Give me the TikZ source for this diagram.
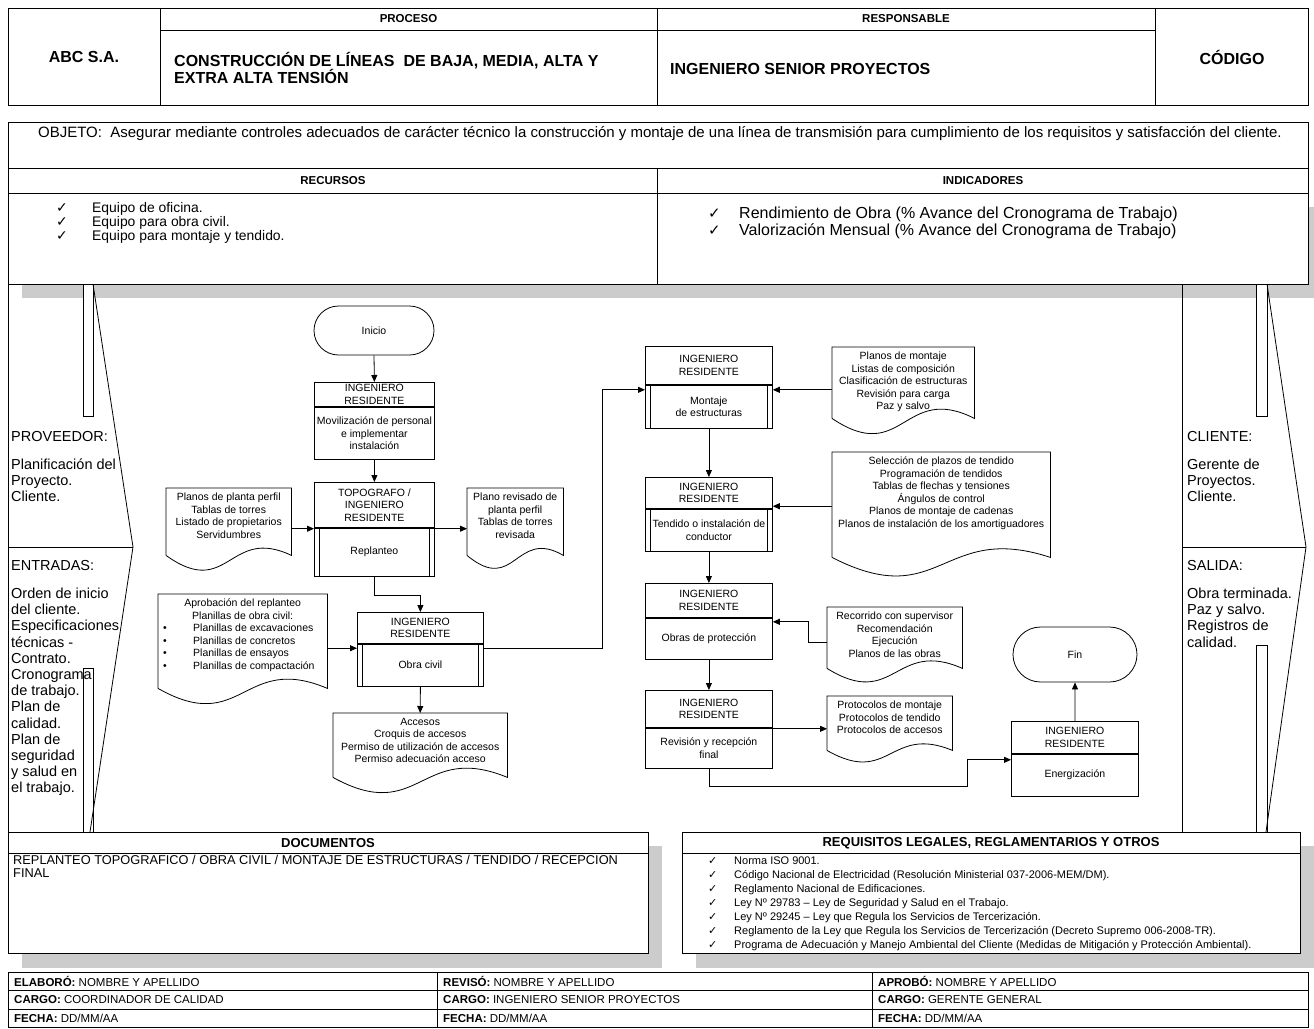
\documentclass[tikz,border=0pt]{standalone}
\usepackage{fontspec}
\setmainfont{Liberation Sans}
\newfontfamily\sym{DejaVu Sans}
\usetikzlibrary{arrows.meta,calc}
\definecolor{shd}{RGB}{204,204,204}
\newcommand\ffont{\fontsize{10.5}{12.5}\selectfont}
\newcommand\ck[2]{\makebox[#1][l]{\sym\fontsize{#2}{#2}\selectfont ✓}}
\newcommand\docout[3]{\draw[ln] (#1.south west) -- (#1.north west) -- (#1.north east) -- (#1.south east) .. controls ($(#1.south east)!0.5!(#1.south west)+(0,-#3)$) and ($(#1.south east)!0.5!(#1.south west)+(0,#2)$) .. (#1.south west);}
\newcommand\ppside[1]{\draw[ln] ([xshift=5pt]#1.north west) -- ([xshift=5pt]#1.south west) ([xshift=-5pt]#1.north east) -- ([xshift=-5pt]#1.south east);}
\tikzset{
 ln/.style={line width=0.8pt},
 arr/.style={line width=0.8pt,-{Triangle[length=7pt,width=6pt]}},
 ff/.style={font=\ffont, align=center, inner sep=0pt},
 fbox/.style={draw, ln, ff, anchor=north west},
 dshape/.style={inner sep=0pt, anchor=north west},
 dtext/.style={ff, anchor=north},
 term/.style={draw, ln, ff, minimum width=120pt, minimum height=49pt, rounded corners=24.5pt},
 coltxt/.style={anchor=north west, align=left, inner sep=0pt, font=\fontsize{14.5}{16.2}\selectfont},
 hsmall/.style={font=\bfseries\fontsize{11.5}{13}\selectfont, inner sep=0pt},
 hbig/.style={font=\bfseries\fontsize{16}{17}\selectfont, inner sep=0pt, align=left},
 ftxt/.style={font=\fontsize{11.5}{13}\selectfont, inner sep=0pt, anchor=west},
}
\begin{document}
\begin{tikzpicture}[x=1pt,y=-1pt]
\useasboundingbox[fill=white] (0,0) rectangle (1314,1028);
% ---------- header
\draw[ln] (8,8) rectangle (1308,105);
\draw[ln] (160,8) -- (160,105) (657,8) -- (657,105) (1155,8) -- (1155,105) (160,30) -- (1155,30);
\node[hsmall] (proc) at (408.5,19) {PROCESO};
\node[hsmall] (resp) at (906,19) {RESPONSABLE};
\node[hbig] (abc) at (84,57) {ABC S.A.};
\node[hbig, anchor=west] (constr) at (174,67.5) {CONSTRUCCIÓN DE LÍNEAS\ \ DE BAJA, MEDIA, ALTA Y\\EXTRA ALTA TENSIÓN};
\node[hbig, anchor=west] (ing) at (670,69) {INGENIERO SENIOR PROYECTOS};
\node[hbig] (cod) at (1232,57) {CÓDIGO};
% ---------- objeto / recursos
\fill[shd] (22,207) rectangle (1314,298);
\draw[ln, fill=white] (8,122) rectangle (1308,284);
\draw[ln] (8,168) -- (1308,168) (8,193) -- (1308,193) (657,168) -- (657,284);
\node[font=\fontsize{15}{16}\selectfont, inner sep=0pt] (obj) at (660,134) {OBJETO:\ \ Asegurar mediante controles adecuados de carácter técnico la construcción y montaje de una línea de transmisión para cumplimiento de los requisitos y satisfacción del cliente.};
\node[hsmall] (recu) at (333,181) {RECURSOS};
\node[hsmall] (indi) at (983,181) {INDICADORES};
\node[anchor=north west, align=left, inner sep=0pt, font=\fontsize{13.9}{14}\selectfont] (recit) at (56,202) {\ck{36pt}{14}Equipo de oficina.\\\ck{36pt}{14}Equipo para obra civil.\\\ck{36pt}{14}Equipo para montaje y tendido.};
\node[anchor=north west, align=left, inner sep=0pt, font=\fontsize{16}{17}\selectfont] (indit) at (708,207) {\ck{31pt}{15}Rendimiento de Obra (\% Avance del Cronograma de Trabajo)\\\ck{31pt}{15}Valorización Mensual (\% Avance del Cronograma de Trabajo)};
% ---------- side columns
\draw[ln] (8,284) -- (8,832) (8,547) -- (133,547);
\draw[ln, fill=white] (83,284) rectangle (93,416);
\draw[ln, fill=white] (83,668) rectangle (93,832);
\draw[ln] (93,284) -- (133,547) -- (90,832);
\draw[ln] (1182,284) -- (1182,832) (1182,547) -- (1306,547);
\draw[ln, fill=white] (1256,284) rectangle (1267,416);
\draw[ln, fill=white] (1256,645) rectangle (1267,832);
\draw[ln] (1267,284) -- (1306,547) -- (1266,832);
\node[coltxt] (prov) at (11,431) {PROVEEDOR:\\[12pt]Planificación del\\Proyecto.\\Cliente.};
\node[coltxt] (entr) at (11,560) {ENTRADAS:\\[12pt]Orden de inicio\\del cliente.\\Especificaciones\\técnicas -\\Contrato.\\Cronograma\\de trabajo.\\Plan de\\calidad.\\Plan de\\seguridad\\y salud en\\el trabajo.};
\node[coltxt] (clie) at (1187,431) {CLIENTE:\\[12pt]Gerente de\\Proyectos.\\Cliente.};
\node[coltxt] (sali) at (1187,560) {SALIDA:\\[12pt]Obra terminada.\\Paz y salvo.\\Registros de\\calidad.};
% ---------- flowchart left
\node[term] (inicio) at (374,330.5) {Inicio};
\node[fbox, minimum width=120pt, minimum height=24pt] (b1h) at (314,382) {INGENIERO\\RESIDENTE};
\node[fbox, minimum width=120pt, minimum height=52pt] (b1) at (b1h.south west) {Movilización de personal\\e implementar\\instalación};
\node[fbox, minimum width=120pt, minimum height=45pt] (b2h) at (314,482) {TOPOGRAFO /\\INGENIERO\\RESIDENTE};
\node[fbox, minimum width=120pt, minimum height=48pt] (b2) at (b2h.south west) {Replanteo};
\ppside{b2}
\draw[arr] (inicio.south) -- (b1h.north);
\draw[arr] (b1.south) -- (b2h.north);
\node[dshape, minimum width=125pt, minimum height=67pt] (dl1) at (166,488) {};
\node[dtext] (dl1t) at ($(dl1.north)+(0,5)$) {Planos de planta perfil\\Tablas de torres\\Listado de propietarios\\Servidumbres};
\docout{dl1}{45}{30}
\node[dshape, minimum width=96pt, minimum height=67pt] (dr1) at (467,488) {};
\node[dtext] (dr1t) at ($(dr1.north)+(0,5)$) {Plano revisado de\\planta perfil\\Tablas de torres\\revisada};
\docout{dr1}{40}{28}
\coordinate (c1) at ([yshift=-7pt]dl1.east);
\draw[arr] (c1) -- (c1 -| b2h.west);
\draw[arr] (c1 -| b2h.east) -- (c1 -| dr1.west);
\node[fbox, minimum width=126pt, minimum height=31pt] (b3h) at (357,612) {INGENIERO\\RESIDENTE};
\node[fbox, minimum width=126pt, minimum height=42pt] (b3) at (b3h.south west) {Obra civil};
\ppside{b3}
\draw[arr] (b2.south) -- ++(0,19) -| (b3h.north);
\node[dshape, minimum width=169pt, minimum height=94pt] (dl2) at (158,594) {};
\node[dtext] (dl2a) at ($(dl2.north)+(0,5)$) {Aprobación del replanteo\\Planillas de obra civil:};
\node[ff, anchor=north west, align=left] (dl2b) at (163,624) {\makebox[30pt][l]{•}Planillas de excavaciones\\\makebox[30pt][l]{•}Planillas de concretos\\\makebox[30pt][l]{•}Planillas de ensayos\\\makebox[30pt][l]{•}Planillas de compactación};
\docout{dl2}{48}{36}
\coordinate (c2) at ([yshift=-7pt]dl2.east);
\draw[arr] (c2) -- (c2 -| b3.west);
\node[dshape, minimum width=174pt, minimum height=64pt] (dacc) at (333,713) {};
\node[dtext] (dacct) at ($(dacc.north)+(0,5)$) {Accesos\\Croquis de accesos\\Permiso de utilización de accesos\\Permiso adecuación acceso};
\docout{dacc}{48}{36}
\draw[arr] (b3.south) -- (dacc.north);
% ---------- flowchart right
\node[fbox, minimum width=127pt, minimum height=38pt] (mh) at (645,346) {INGENIERO\\RESIDENTE};
\node[fbox, minimum width=127pt, minimum height=43pt] (m) at (mh.south west) {Montaje\\de estructuras};
\ppside{m}
\coordinate (c3) at ([yshift=-5pt]b3.north east);
\coordinate (c4) at ([yshift=-5pt]m.north west);
\draw[arr] (c3) -- ++(119,0) |- (c4);
\node[dshape, minimum width=142pt, minimum height=71pt] (dm) at (832,347) {};
\node[dtext] (dmt) at ($(dm.north)+(0,5)$) {Planos de montaje\\Listas de composición\\Clasificación de estructuras\\Revisión para carga\\Paz y salvo};
\docout{dm}{48}{36}
\draw[arr] (dm.west |- c4) -- (c4 -| m.east);
\node[fbox, minimum width=127pt, minimum height=31pt] (th) at (645,477) {INGENIERO\\RESIDENTE};
\node[fbox, minimum width=127pt, minimum height=42pt] (t) at (th.south west) {Tendido o instalación de\\conductor};
\ppside{t}
\draw[arr] (m.south) -- (th.north);
\node[dshape, minimum width=218pt, minimum height=105pt] (dt) at (832,452) {};
\node[dtext] (dtt) at ($(dt.north)+(0,5)$) {Selección de plazos de tendido\\Programación de tendidos\\Tablas de flechas y tensiones\\Ángulos de control\\Planos de montaje de cadenas\\Planos de instalación de los amortiguadores};
\docout{dt}{56}{36}
\draw[arr] ([yshift=-1.5pt]dt.west) -- ([yshift=-1.5pt]dt.west -| t.east);
\node[fbox, minimum width=127pt, minimum height=34pt] (oh) at (645,583) {INGENIERO\\RESIDENTE};
\node[fbox, minimum width=127pt, minimum height=41pt] (o) at (oh.south west) {Obras de protección};
\draw[arr] (t.south) -- (oh.north);
\node[dshape, minimum width=135pt, minimum height=61pt] (dob) at (827,607) {};
\node[dtext] (dobt) at ($(dob.north)+(0,5)$) {Recorrido con supervisor\\Recomendación\\Ejecución\\Planos de las obras};
\docout{dob}{42}{30}
\coordinate (c6) at ([yshift=-4.5pt]dob.west);
\coordinate (c7) at ([yshift=-4pt]o.north east);
\draw[arr] (c6) -- ++(-19,0) |- (c7);
\node[fbox, minimum width=127pt, minimum height=37pt] (rh) at (645,690) {INGENIERO\\RESIDENTE};
\node[fbox, minimum width=127pt, minimum height=40pt] (r) at (rh.south west) {Revisión y recepción\\final};
\draw[arr] (o.south) -- (rh.north);
\node[dshape, minimum width=125pt, minimum height=54pt] (dp) at (827,696) {};
\node[dtext] (dpt) at ($(dp.north)+(0,5)$) {Protocolos de montaje\\Protocolos de tendido\\Protocolos de accesos};
\docout{dp}{36}{26}
\coordinate (c8) at ([yshift=-1pt]r.north east);
\draw[arr] (c8) -- (c8 -| dp.west);
\node[fbox, minimum width=127pt, minimum height=32pt] (eh) at (1011,721) {INGENIERO\\RESIDENTE};
\node[fbox, minimum width=127pt, minimum height=42pt] (e) at (eh.south west) {Energización};
\coordinate (c9) at ([yshift=-6pt]e.north west);
\draw[arr] (r.south) -- ++(0,18) -| ([xshift=-44pt]c9) -- (c9);
\node[term, minimum width=124pt, minimum height=55pt, rounded corners=27.5pt] (fin) at (1075,654.5) {Fin};
\draw[arr] (eh.north) -- (fin.south);
% ---------- bottom boxes
\fill[shd] (22,846) rectangle (662,968);
\draw[ln, fill=white] (8,832) rectangle (648,953);
\draw[ln] (8,853) -- (648,853);
\fill[shd] (696,846) rectangle (1314,968);
\draw[ln, fill=white] (682,832) rectangle (1300,953);
\draw[ln] (682,853) -- (1300,853);
\node[font=\bfseries\fontsize{13}{14}\selectfont, inner sep=0pt] (docu) at (328,843) {DOCUMENTOS};
\node[font=\bfseries\fontsize{13}{14}\selectfont, inner sep=0pt] (requ) at (991,843) {REQUISITOS LEGALES, REGLAMENTARIOS Y OTROS};
\node[anchor=north west, align=left, inner sep=0pt, font=\fontsize{12.8}{13}\selectfont] (doct) at (13,855) {REPLANTEO TOPOGRAFICO / OBRA CIVIL / MONTAJE DE ESTRUCTURAS / TENDIDO / RECEPCION\\FINAL};
\node[anchor=north west, align=left, inner sep=0pt, font=\fontsize{11}{13.9}\selectfont] (reqt) at (708,857) {\ck{26pt}{11}Norma ISO 9001.\\\ck{26pt}{11}Código Nacional de Electricidad (Resolución Ministerial 037-2006-MEM/DM).\\\ck{26pt}{11}Reglamento Nacional de Edificaciones.\\\ck{26pt}{11}Ley Nº 29783 – Ley de Seguridad y Salud en el Trabajo.\\\ck{26pt}{11}Ley Nº 29245 – Ley que Regula los Servicios de Tercerización.\\\ck{26pt}{11}Reglamento de la Ley que Regula los Servicios de Tercerización (Decreto Supremo 006-2008-TR).\\\ck{26pt}{11}Programa de Adecuación y Manejo Ambiental del Cliente (Medidas de Mitigación y Protección Ambiental).};
% ---------- footer
\draw[ln] (8,972) rectangle (1308,1027.5);
\draw[ln] (8,990.5) -- (1308,990.5) (8,1009) -- (1308,1009) (437,972) -- (437,1027.5) (872,972) -- (872,1027.5);
\node[ftxt] (f11) at (14,981.5) {\textbf{ELABORÓ:} NOMBRE Y APELLIDO};
\node[ftxt] (f12) at (443,981.5) {\textbf{REVISÓ:} NOMBRE Y APELLIDO};
\node[ftxt] (f13) at (878,981.5) {\textbf{APROBÓ:} NOMBRE Y APELLIDO};
\node[ftxt] (f21) at (14,1000) {\textbf{CARGO:} COORDINADOR DE CALIDAD};
\node[ftxt] (f22) at (443,1000) {\textbf{CARGO:} INGENIERO SENIOR PROYECTOS};
\node[ftxt] (f23) at (878,1000) {\textbf{CARGO:} GERENTE GENERAL};
\node[ftxt] (f31) at (14,1018.5) {\textbf{FECHA:} DD/MM/AA};
\node[ftxt] (f32) at (443,1018.5) {\textbf{FECHA:} DD/MM/AA};
\node[ftxt] (f33) at (878,1018.5) {\textbf{FECHA:} DD/MM/AA};
\end{tikzpicture}
\end{document}
